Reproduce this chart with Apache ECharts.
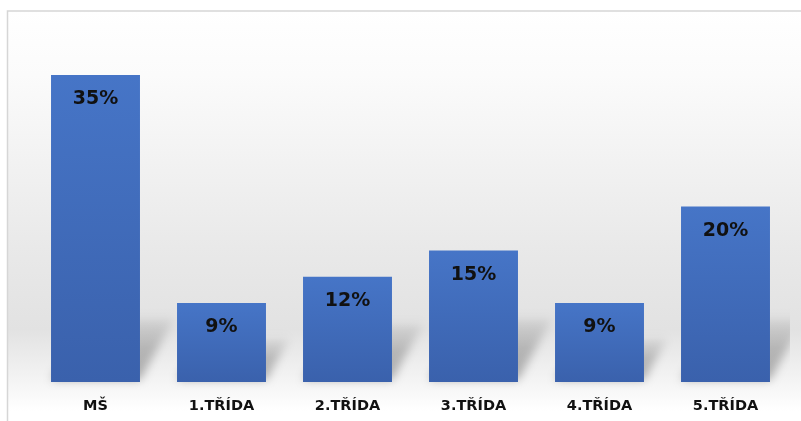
<!DOCTYPE html>
<html>
<head>
<meta charset="utf-8">
<script src="https://cdn.jsdelivr.net/npm/echarts@6/dist/echarts.min.js"></script>
<style>
  html, body { margin: 0; padding: 0; background: #ffffff; }
  #chart { width: 801px; height: 421px; }
</style>
</head>
<body>
<div id="chart"></div>
<script>
// Share of respondents by school year
const categories = ['MŠ', '1.TŘÍDA', '2.TŘÍDA', '3.TŘÍDA', '4.TŘÍDA', '5.TŘÍDA'];
const shares = [35, 9, 12, 15, 9, 20];

const BAR_RATIO = 0.706;
const FONT = '"DejaVu Sans", Verdana, sans-serif';
// The shadow shape is drawn off to the side and only its blurred shadow
// is shifted back under the bar, which gives a fully soft edge.
const SHIFT = 2000;

const chart = echarts.init(document.getElementById('chart'), null, { renderer: 'canvas' });

// Chart-area background, in canvas coordinates so that pieces line up
function backgroundFill() {
  return new echarts.graphic.LinearGradient(0, 11, 0, 441, [
    { offset: 0, color: '#ffffff' },
    { offset: 0.15, color: '#fbfbfb' },
    { offset: 0.55, color: '#e9e9e9' },
    { offset: 0.74, color: '#e2e2e2' },
    { offset: 0.86, color: '#f4f4f4' },
    { offset: 0.93, color: '#ffffff' },
    { offset: 1, color: '#ffffff' }
  ], true);
}

// Soft floor shadow cast by each bar towards the back-right
function renderShadow(params, api) {
  const idx = api.value(0);
  const val = api.value(1);
  const top = api.coord([idx, val]);
  const base = api.coord([idx, 0]);
  const band = api.size([1, 0])[0];
  const w = band * BAR_RATIO;
  const x0 = base[0] - w / 2 - SHIFT;
  const x1 = base[0] + w / 2 - SHIFT;
  const barH = base[1] - top[1];
  const h = Math.min(barH * 0.55, 64);
  const dx = h * 0.55;
  const by = base[1] - 2;
  return {
    type: 'polygon',
    shape: {
      points: [[x0, by], [x1, by], [x1 + dx, by - h], [x0 + dx, by - h]]
    },
    style: {
      fill: new echarts.graphic.LinearGradient(0, 1, 0, 0, [
        { offset: 0, color: 'rgba(0,0,0,0.30)' },
        { offset: 0.5, color: 'rgba(0,0,0,0.22)' },
        { offset: 1, color: 'rgba(0,0,0,0.04)' }
      ]),
      shadowBlur: 10,
      shadowColor: 'rgba(0,0,0,1)',
      shadowOffsetX: SHIFT,
      shadowOffsetY: 0
    }
  };
}

chart.setOption({
  animation: false,
  backgroundColor: '#ffffff',
  graphic: [
    {
      type: 'rect',
      z: -10,
      silent: true,
      shape: { x: 7.5, y: 11, width: 820, height: 430 },
      style: {
        fill: backgroundFill(),
        stroke: '#d6d6d6',
        lineWidth: 1.5
      }
    },
    {
      // the plot area ends here; shadows stop at its edge
      type: 'rect',
      z: 5,
      silent: true,
      shape: { x: 790, y: 250, width: 20, height: 150 },
      style: { fill: backgroundFill() }
    }
  ],
  grid: { left: 32.5, right: 12.5, top: 31, bottom: 39, containLabel: false },
  xAxis: {
    type: 'category',
    data: categories,
    axisLine: { show: false },
    axisTick: { show: false },
    axisLabel: {
      margin: 17,
      color: '#111111',
      fontFamily: FONT,
      fontWeight: 'bold',
      fontSize: 14.5
    }
  },
  yAxis: {
    type: 'value',
    min: 0,
    max: 40,
    show: false,
    splitLine: { show: false }
  },
  series: [
    {
      type: 'custom',
      z: 1,
      silent: true,
      clip: false,
      renderItem: renderShadow,
      data: shares.map((v, i) => [i, v])
    },
    {
      type: 'bar',
      z: 2,
      data: shares,
      barWidth: (BAR_RATIO * 100) + '%',
      itemStyle: {
        color: new echarts.graphic.LinearGradient(0, 0, 0, 1, [
          { offset: 0, color: '#4675c7' },
          { offset: 1, color: '#3a61ac' }
        ])
      },
      label: {
        show: true,
        position: 'insideTop',
        distance: 15,
        formatter: '{c}%',
        color: '#111111',
        fontFamily: FONT,
        fontWeight: 'bold',
        fontSize: 19
      }
    }
  ]
});
</script>
</body>
</html>
